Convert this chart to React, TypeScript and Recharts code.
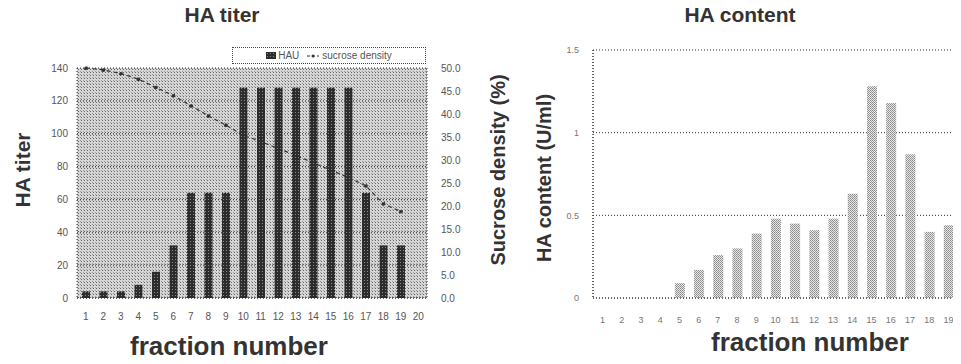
import React from "react";
import {
  ComposedChart,
  BarChart,
  Bar,
  Line,
  XAxis,
  YAxis,
  CartesianGrid,
} from "recharts";

// left panel: HA titer + sucrose density
const fractionsLeft = [
  "1", "2", "3", "4", "5", "6", "7", "8", "9", "10",
  "11", "12", "13", "14", "15", "16", "17", "18", "19", "20",
];
const hau = [4, 4, 4, 8, 16, 32, 64, 64, 64, 128, 128, 128, 128, 128, 128, 128, 64, 32, 32, null];
const sucrose = [
  50.0, 49.6, 48.8, 47.6, 45.8, 44.0, 41.8, 39.6, 37.6, 35.4,
  34.0, 32.5, 31.0, 29.4, 27.8, 26.2, 24.4, 20.5, 18.8, null,
];
const titerTicks = [0, 20, 40, 60, 80, 100, 120, 140];
const sucroseTicks = [0, 5, 10, 15, 20, 25, 30, 35, 40, 45, 50];

// right panel: HA content
const fractionsRight = [
  "1", "2", "3", "4", "5", "6", "7", "8", "9", "10",
  "11", "12", "13", "14", "15", "16", "17", "18", "19",
];
const haContent = [
  0, 0, 0, 0, 0.09, 0.17, 0.26, 0.3, 0.39, 0.48,
  0.45, 0.41, 0.48, 0.63, 1.28, 1.18, 0.87, 0.4, 0.44,
];
const contentTicks = [0, 0.5, 1, 1.5];

const leftData = fractionsLeft.map((f, i) => ({
  fraction: f,
  HAU: hau[i],
  sucrose: sucrose[i],
}));
const rightData = fractionsRight.map((f, i) => ({
  fraction: f,
  content: haContent[i],
}));

const FONT = "'Liberation Sans', Arial, sans-serif";
const dotted = { stroke: "#333", strokeDasharray: "1 2" };
const tickStyle = { fontSize: 10, fill: "#555", fontFamily: FONT };
const leftMargin = { top: 68, right: 33, bottom: 36, left: 30 };

const boldText: React.CSSProperties = {
  position: "absolute",
  fontFamily: FONT,
  fontWeight: 700,
  color: "#333",
  whiteSpace: "nowrap",
  lineHeight: 1,
};

function Centered({
  x,
  y,
  size,
  rotate,
  children,
}: {
  x: number;
  y: number;
  size: number;
  rotate?: boolean;
  children: React.ReactNode;
}) {
  return (
    <div
      style={{
        ...boldText,
        left: x,
        top: y,
        fontSize: size,
        transform: `translate(-50%, -50%)${rotate ? " rotate(-90deg)" : ""}`,
      }}
    >
      {children}
    </div>
  );
}

export default function App() {
  return (
    <div style={{ position: "relative", width: 961, height: 364, margin: -8, background: "#fff" }}>
      <svg width={0} height={0} style={{ position: "absolute" }}>
        <defs>
          <pattern id="bgDots" width="3" height="3" patternUnits="userSpaceOnUse">
            <rect width="3" height="3" fill="#d6d6d6" />
            <rect x="0" y="0" width="1" height="1" fill="#666" />
            <rect x="2" y="2" width="1" height="1" fill="#9a9a9a" />
          </pattern>
          <pattern id="darkDots" width="3" height="3" patternUnits="userSpaceOnUse">
            <rect width="3" height="3" fill="#2c2c2c" />
            <rect x="1" y="1" width="1" height="1" fill="#8a8a8a" />
          </pattern>
          <pattern id="lightDots" width="2" height="2" patternUnits="userSpaceOnUse">
            <rect width="2" height="2" fill="#e8e8e8" />
            <rect x="0" y="0" width="1" height="1" fill="#888" />
            <rect x="1" y="1" width="1" height="1" fill="#9a9a9a" />
          </pattern>
        </defs>
      </svg>

      {/* grid, axes and the sucrose line */}
      <div style={{ position: "absolute", left: 0, top: 0 }}>
        <ComposedChart width={520} height={364} data={leftData} margin={leftMargin}>
          <CartesianGrid
            vertical={false}
            fill="url(#bgDots)"
            stroke="#333"
            strokeDasharray="1 2"
            yAxisId="left"
          />
          <XAxis
            dataKey="fraction"
            interval={0}
            tickLine={false}
            tickSize={0}
            tickMargin={15}
            axisLine={dotted}
            tick={tickStyle}
          />
          <YAxis
            yAxisId="left"
            width={47}
            domain={[0, 140]}
            ticks={titerTicks}
            tickLine={false}
            tickSize={0}
            tickMargin={9}
            axisLine={dotted}
            tick={tickStyle}
          />
          <YAxis
            yAxisId="right"
            orientation="right"
            width={60}
            domain={[0, 50]}
            ticks={sucroseTicks}
            tickFormatter={(v: number) => v.toFixed(1)}
            tickLine={false}
            tickSize={0}
            tickMargin={14}
            axisLine={dotted}
            tick={tickStyle}
          />
          {/* invisible copy keeps the band scale identical to the overlay */}
          <Bar
            yAxisId="left"
            dataKey="HAU"
            barSize={8}
            fill="none"
            isAnimationActive={false}
          />
          <Line
            yAxisId="right"
            dataKey="sucrose"
            stroke="#333"
            strokeWidth={1.2}
            strokeDasharray="4 3"
            dot={{ r: 1.5, fill: "#333", stroke: "#333" }}
            isAnimationActive={false}
          />
        </ComposedChart>
      </div>

      {/* HAU bars on top so the line runs behind them */}
      <div style={{ position: "absolute", left: 0, top: 0 }}>
        <ComposedChart width={520} height={364} data={leftData} margin={leftMargin}>
          <XAxis dataKey="fraction" tick={false} tickLine={false} axisLine={false} />
          <YAxis
            yAxisId="left"
            width={47}
            domain={[0, 140]}
            ticks={titerTicks}
            tick={false}
            tickLine={false}
            axisLine={false}
          />
          <YAxis
            yAxisId="right"
            orientation="right"
            width={60}
            domain={[0, 50]}
            tick={false}
            tickLine={false}
            axisLine={false}
          />
          <Bar
            yAxisId="left"
            dataKey="HAU"
            barSize={8}
            fill="url(#darkDots)"
            isAnimationActive={false}
          />
        </ComposedChart>
      </div>

      <div style={{ position: "absolute", left: 480, top: 0 }}>
        <BarChart
          width={481}
          height={364}
          data={rightData}
          margin={{ top: 50, right: 3, bottom: 36, left: 83 }}
        >
          <CartesianGrid
            stroke="#333"
            strokeDasharray="1 2"
            verticalPoints={[113, 478]}
          />
          <XAxis
            dataKey="fraction"
            interval={0}
            tickLine={false}
            tickSize={0}
            tickMargin={19}
            axisLine={dotted}
            tick={{ ...tickStyle, fontSize: 9, fill: "#777" }}
          />
          <YAxis
            width={30}
            domain={[0, 1.5]}
            ticks={contentTicks}
            tickLine={false}
            tickSize={0}
            tickMargin={14}
            axisLine={dotted}
            tick={{ ...tickStyle, fontSize: 9, fill: "#777" }}
          />
          <Bar
            dataKey="content"
            barSize={10}
            fill="url(#lightDots)"
            isAnimationActive={false}
          />
        </BarChart>
      </div>

      {/* legend of the left panel */}
      <div
        style={{
          position: "absolute",
          left: 232,
          top: 47,
          width: 192,
          height: 15,
          border: "1px dotted #444",
          background: "#fff",
          fontFamily: FONT,
          fontSize: 10,
          color: "#555",
          display: "flex",
          alignItems: "center",
          justifyContent: "center",
          gap: 8,
        }}
      >
        <span style={{ display: "flex", alignItems: "center", gap: 2 }}>
          <svg width={10} height={7}>
            <rect width={10} height={7} fill="url(#darkDots)" />
          </svg>
          HAU
        </span>
        <span style={{ display: "flex", alignItems: "center", gap: 3 }}>
          <svg width={12} height={6}>
            <line x1={0} y1={3} x2={12} y2={3} stroke="#333" strokeDasharray="3 2" />
            <circle cx={6} cy={3} r={1.5} fill="#333" />
          </svg>
          sucrose density
        </span>
      </div>

      <Centered x={222} y={14} size={21}>HA titer</Centered>
      <Centered x={740} y={14} size={21}>HA content</Centered>
      <Centered x={22} y={170} size={21} rotate>HA titer</Centered>
      <Centered x={498} y={170} size={20} rotate>Sucrose density (%)</Centered>
      <Centered x={544} y={178} size={20} rotate>HA content (U/ml)</Centered>
      <Centered x={229} y={346} size={26}>fraction number</Centered>
      <Centered x={810} y={342} size={26}>fraction number</Centered>
    </div>
  );
}
